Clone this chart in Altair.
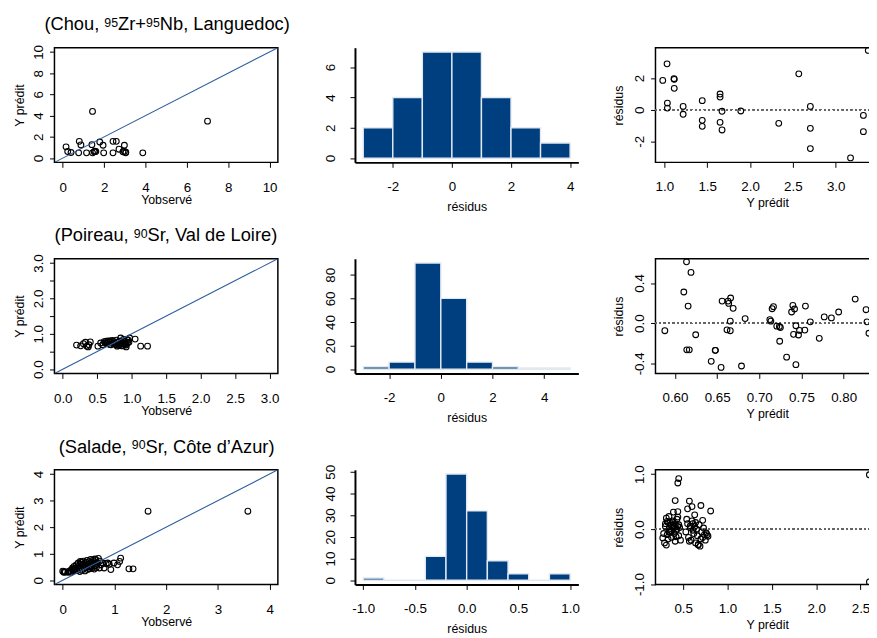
import altair as alt
import pandas as pd

FONT = "Liberation Sans"
LINE_BLUE = "#2c5d9c"
BAR_FILL = "#003f7f"
BAR_EDGE = "#e2e9f2"
MINUS = "\u2212"

# ---------------- Row 1 : Chou, 95Zr+95Nb, Languedoc ----------------
chou_title = [("(Chou, ", False), ("95", True), ("Zr+", False), ("95", True), ("Nb, Languedoc)", False)]
chou_obs = [0.16, 0.24, 0.40, 0.80, 0.88, 0.77, 1.15, 1.44, 1.41, 1.44, 1.52, 1.60, 1.79, 1.95,
            1.98, 2.43, 2.59, 2.43, 2.72, 2.98, 2.91, 3.04, 2.98, 3.87, 7.00, 1.55, 3.05]
chou_pred = [1.06, 0.62, 0.53, 1.58, 1.24, 0.50, 0.50, 4.40, 1.27, 0.50, 0.60, 0.62, 1.52, 1.21,
             0.50, 1.58, 1.58, 0.50, 0.84, 1.21, 0.60, 0.50, 0.62, 0.50, 3.48, 0.65, 0.55]
chou_edges = [-3, -2, -1, 0, 1, 2, 3, 4]
chou_counts = [2, 4, 7, 7, 4, 2, 1]
chou_res_pred = [0.981, 1.031, 1.035, 1.035, 1.112, 1.115, 1.115, 1.219, 1.219, 1.442, 1.442, 1.442,
                 1.65, 1.65, 1.65, 1.673, 1.673, 1.892, 2.335, 2.569, 2.704, 2.704, 2.704, 3.173,
                 3.323, 3.323, 3.38]
chou_res = [1.85, 2.90, 0.42, 0.10, 1.96, 1.92, 1.35, 0.21, -0.29, 0.57, -0.67, -1.05, 0.99, 0.80,
            -0.80, -0.10, -1.28, -0.08, -0.86, 2.27, 0.21, -1.18, -2.46, -3.05, -0.36, -1.39, 3.75]

# ---------------- Row 2 : Poireau, 90Sr, Val de Loire ----------------
poireau_title = [("(Poireau, ", False), ("90", True), ("Sr, Val de Loire)", False)]
poireau_obs = [0.20, 0.26, 0.33, 0.35, 0.38, 0.40, 0.37, 0.30, 0.51, 0.55, 0.58, 0.60, 0.63, 0.64,
               0.66, 0.67, 0.70, 0.72, 0.73, 0.75, 0.77, 0.78, 0.79, 0.80, 0.82, 0.83, 0.84, 0.85,
               0.86, 0.87, 0.88, 0.89, 0.90, 0.91, 0.92, 0.93, 0.94, 0.96, 0.97, 1.05, 1.13, 1.23,
               0.62, 0.68, 0.74, 0.81, 0.85, 0.88, 0.90, 0.69, 0.76, 0.92, 0.95]
poireau_pred = [0.68, 0.66, 0.76, 0.65, 0.69, 0.77, 0.63, 0.72, 0.65, 0.74, 0.69, 0.78, 0.79, 0.72,
                0.80, 0.77, 0.69, 0.81, 0.73, 0.74, 0.69, 0.82, 0.65, 0.76, 0.79, 0.70, 0.88, 0.66,
                0.74, 0.66, 0.80, 0.79, 0.69, 0.72, 0.63, 0.84, 0.75, 0.76, 0.88, 0.85, 0.65, 0.65,
                0.74, 0.70, 0.78, 0.67, 0.72, 0.84, 0.77, 0.80, 0.71, 0.68, 0.82]
poireau_edges = [-3, -2, -1, 0, 1, 2, 3, 4, 5]
poireau_counts = [2, 6, 90, 60, 6, 2, 1, 1]
poireau_res_pred = [0.588, 0.6105, 0.6137, 0.619, 0.6156, 0.614, 0.617, 0.6246, 0.643, 0.6477,
                    0.6480, 0.6547, 0.6559, 0.663, 0.6637, 0.666, 0.669, 0.6617, 0.6656, 0.6656,
                    0.6789, 0.6832, 0.7125, 0.7137, 0.7152, 0.7168, 0.7207, 0.7238, 0.725, 0.7242,
                    0.7324, 0.7383, 0.7398, 0.7418, 0.7406, 0.7434, 0.7434, 0.7465, 0.7477, 0.7547,
                    0.754, 0.7605, 0.7711, 0.777, 0.7855, 0.7941, 0.8137, 0.8266, 0.8277, 0.830]
poireau_res = [-0.075, 0.31, 0.61, 0.505, 0.17, -0.265, -0.265, -0.115, -0.38, -0.27, -0.27, -0.44,
               0.22, 0.22, 0.197, 0.25, 0.148, -0.066, -0.075, 0.02, -0.426, 0.046, 0.036, 0.02,
               0.144, 0.164, -0.03, -0.033, -0.043, -0.18, -0.338, 0.111, 0.177, 0.141, -0.111,
               -0.026, -0.413, -0.118, -0.072, 0.17, -0.069, 0.013, -0.151, 0.062, 0.052, 0.111,
               0.24, 0.134, 0.013, -0.10]

# ---------------- Row 3 : Salade, 90Sr, Cote d'Azur ----------------
salade_title = [("(Salade, ", False), ("90", True), ("Sr, C\u00f4te d\u2019Azur)", False)]
salade_obs = [0.00, 0.02, 0.03, 0.05, 0.10, 0.12, 0.15, 0.16, 0.18, 0.19, 0.20, 0.22, 0.23, 0.25,
              0.26, 0.27, 0.28, 0.30, 0.31, 0.32, 0.33, 0.34, 0.35, 0.35, 0.36, 0.37, 0.38, 0.39,
              0.40, 0.41, 0.42, 0.43, 0.44, 0.45, 0.46, 0.47, 0.48, 0.49, 0.50, 0.51, 0.52, 0.53,
              0.54, 0.55, 0.56, 0.57, 0.58, 0.59, 0.60, 0.61, 0.62, 0.63, 0.64, 0.65, 0.66, 0.67,
              0.69, 0.71, 0.72, 0.74, 0.77, 0.80, 0.84, 0.87, 0.90, 0.93, 0.99, 1.06, 1.10, 1.12,
              1.28, 1.36, 1.65, 3.58]
salade_pred = [0.34, 0.30, 0.32, 0.31, 0.30, 0.33, 0.37, 0.30, 0.41, 0.46, 0.35, 0.52, 0.40, 0.45,
               0.58, 0.36, 0.50, 0.65, 0.42, 0.55, 0.33, 0.71, 0.60, 0.47, 0.68, 0.38, 0.58, 0.52,
               0.72, 0.45, 0.63, 0.35, 0.55, 0.68, 0.48, 0.75, 0.40, 0.60, 0.52, 0.70, 0.43, 0.62,
               0.78, 0.50, 0.66, 0.45, 0.75, 0.58, 0.70, 0.42, 0.80, 0.55, 0.77, 0.48, 0.68, 0.60,
               0.82, 0.46, 0.72, 0.58, 0.65, 0.46, 0.62, 0.65, 0.60, 0.40, 0.65, 0.58, 0.71, 0.83,
               0.43, 0.43, 2.60, 2.60]
salade_edges = [-1.0, -0.8, -0.6, -0.4, -0.2, 0.0, 0.2, 0.4, 0.6, 0.8, 1.0]
salade_counts = [1, 0, 0, 11, 49, 32, 9, 3, 0, 3]
salade_res_pred = [0.45, 0.44, 0.41, 0.57, 0.60, 0.70, 0.81, 0.55, 0.39, 0.44, 0.34, 0.44, 0.63, 0.72, 0.61,
                   0.28, 0.27, 0.29, 0.31, 0.67, 0.69, 0.78,
                   0.30, 0.32, 0.33, 0.34, 0.35, 0.36, 0.37, 0.38, 0.39, 0.40, 0.41, 0.42, 0.43, 0.44,
                   0.45, 0.46, 0.47, 0.31, 0.33, 0.35, 0.37, 0.39, 0.41, 0.43, 0.45, 0.36, 0.38, 0.40,
                   0.42, 0.34, 0.30, 0.32,
                   0.53, 0.55, 0.56, 0.58, 0.59, 0.60, 0.62, 0.63, 0.64, 0.65, 0.66, 0.68, 0.70, 0.71,
                   0.73, 0.74, 0.75, 0.76, 0.54, 0.57, 0.61, 0.64, 0.67, 0.72, 0.77, 0.58,
                   2.60, 2.60]
salade_res = [0.92, 0.84, 0.52, 0.51, 0.41, 0.43, 0.33, 0.37, 0.31, 0.32, 0.23, 0.22, 0.26, 0.16, 0.10,
              -0.08, -0.16, -0.25, -0.29, -0.29, -0.31, -0.13,
              0.05, -0.10, 0.12, 0.00, -0.05, 0.08, -0.15, 0.15, 0.02, -0.08, 0.10, -0.02, 0.18, 0.05,
              -0.12, 0.03, -0.20, 0.20, -0.18, 0.12, -0.03, 0.07, -0.22, 0.00, 0.08, -0.06, 0.13, 0.04,
              -0.14, -0.05, 0.10, 0.14,
              -0.05, 0.10, -0.15, 0.03, -0.20, 0.15, -0.08, 0.05, -0.25, 0.00, -0.12, 0.08, -0.18, -0.05,
              0.02, -0.10, -0.20, -0.07, 0.18, -0.22, -0.02, 0.12, -0.28, -0.15, -0.10, 0.06,
              0.99, -0.96]

# ---------------- layout / style ----------------
W, H = 226, 116
TICK = 5
TITLE_SIZE, SUP_SIZE = 18.5, 12.5
TITLE_BASE, SUP_RAISE = -17.5, 3.5

# Arial / Liberation Sans advance widths (per 1000 em) for the title characters
ADV = {"(": 333, ")": 333, " ": 278, ",": 278, "+": 584, "\u2019": 222,
       "A": 667, "C": 722, "L": 556, "N": 722, "P": 667, "S": 667, "V": 667, "Z": 611,
       "a": 556, "b": 556, "c": 500, "d": 556, "e": 556, "g": 556, "h": 556, "i": 222,
       "l": 222, "n": 556, "o": 556, "r": 333, "s": 500, "t": 278, "u": 556, "z": 500,
       "\u00f4": 556}


def text_width(s, size):
    return sum(ADV.get(ch, 556) for ch in s) * size / 1000.0


def title_layers(pieces):
    sizes = [SUP_SIZE if sup else TITLE_SIZE for _, sup in pieces]
    widths = [text_width(t, s) for (t, _), s in zip(pieces, sizes)]
    x = W / 2 + 1 - sum(widths) / 2
    out = []
    for (t, sup), s, w in zip(pieces, sizes, widths):
        out.append(
            alt.Chart(pd.DataFrame({"t": [t]})).mark_text(
                align="left", baseline="alphabetic", font=FONT, fontSize=s, color="black"
            ).encode(
                text="t:N",
                x=alt.value(x),
                y=alt.value(TITLE_BASE - (SUP_RAISE if sup else 0)),
            )
        )
        x += w
    return out


def lab(fmt):
    return f"replace(format(datum.value, '{fmt}'), '{MINUS}', '-')"


def lab_only(fmt, keep):
    cond = " || ".join(f"abs(datum.value - ({k})) < 1e-6" for k in keep)
    return f"({cond}) ? {lab(fmt)} : ''"


def x_axis(values, expr, title, label_pad, title_pad, domain):
    return alt.Axis(values=values, labelExpr=expr, title=title, grid=False, domain=domain,
                    domainWidth=2, tickSize=TICK, tickWidth=1,
                    labelPadding=label_pad, titlePadding=title_pad, labelAngle=0,
                    labelAlign="center", labelBaseline="top", labelFlush=False)


def y_axis(values, expr, title, label_pad, title_pad, domain):
    return alt.Axis(values=values, labelExpr=expr, title=title, grid=False, domain=domain,
                    domainWidth=2, tickSize=TICK, tickWidth=1,
                    labelAngle=270, labelAlign="center", labelBaseline="alphabetic",
                    labelPadding=label_pad, titlePadding=title_pad, labelFlush=False)


def obs_panel(obs, pred, dom, ticks, xexpr, yexpr, title):
    df = pd.DataFrame({"obs": obs, "pred": pred})
    diag = pd.DataFrame({"v": [dom[0], dom[1]]})
    sx = alt.Scale(domain=dom, nice=False, zero=False)
    sy = alt.Scale(domain=dom, nice=False, zero=False)
    ax = x_axis(ticks, xexpr, "Yobservé", 13, 0.5, False)
    ay = y_axis(ticks, yexpr, "Y prédit", 7, 5.5, False)
    pts = alt.Chart(df).mark_point(shape="circle", filled=False, color="black", size=34,
                                   strokeWidth=1.1, opacity=1).encode(
        x=alt.X("obs:Q", scale=sx, axis=ax),
        y=alt.Y("pred:Q", scale=sy, axis=ay),
    )
    line = alt.Chart(diag).mark_line(color=LINE_BLUE, strokeWidth=1.1, clip=True).encode(
        x=alt.X("v:Q", scale=sx, axis=ax),
        y=alt.Y("v:Q", scale=sy, axis=ay),
    )
    return alt.layer(pts, line, *title_layers(title)).properties(
        width=W, height=H,
        view=alt.ViewBackground(stroke="black", strokeWidth=1.5),
    )


def hist_panel(edges, counts, xdom, ydom, xticks, yticks, xexpr):
    df = pd.DataFrame({"start": edges[:-1], "end": edges[1:], "count": counts})
    sx = alt.Scale(domain=xdom, nice=False, zero=False)
    sy = alt.Scale(domain=ydom, nice=False, zero=False)
    bars = alt.Chart(df).mark_rect(color=BAR_FILL, stroke=BAR_EDGE, strokeWidth=1.4).encode(
        x=alt.X("start:Q", scale=sx, axis=x_axis(xticks, xexpr, "résidus", 12, 8, True)),
        x2="end:Q",
        y=alt.Y("count:Q", scale=sy, axis=y_axis(yticks, lab("d"), None, 16, 4, True)),
        y2=alt.datum(0),
    )
    return bars.properties(width=W, height=H)


def res_panel(pred, res, xdom, ydom, xticks, yticks, xexpr, yexpr):
    df = pd.DataFrame({"pred": pred, "res": res})
    sx = alt.Scale(domain=xdom, nice=False, zero=False)
    sy = alt.Scale(domain=ydom, nice=False, zero=False)
    pts = alt.Chart(df).mark_point(shape="circle", filled=False, color="black", size=34,
                                   strokeWidth=1.1, opacity=1, clip=True).encode(
        x=alt.X("pred:Q", scale=sx, axis=x_axis(xticks, xexpr, "Y prédit", 12, 4, False)),
        y=alt.Y("res:Q", scale=sy, axis=y_axis(yticks, yexpr, "résidus", 7.5, 6.5, False)),
    )
    zero = alt.Chart(df).mark_rule(color="#666666", strokeWidth=1.2, strokeDash=[1.5, 3]).encode(
        y=alt.datum(0)
    )
    return alt.layer(zero, pts).properties(
        width=W, height=H,
        view=alt.ViewBackground(stroke="black", strokeWidth=1.5),
    )


panels = [
    obs_panel(chou_obs, chou_pred, [-0.4, 10.4], [0, 2, 4, 6, 8, 10], lab("d"), lab("d"),
              chou_title),
    hist_panel(chou_edges, chou_counts, [-3.28, 4.28], [-0.28, 7.28], [-2, 0, 2, 4], [0, 2, 4, 6],
               lab("d")),
    res_panel(chou_res_pred, chou_res, [0.896, 3.504], [-3.33, 3.92], [1.0, 1.5, 2.0, 2.5, 3.0],
              [-2, 0, 2], lab(".1f"), lab("d")),

    obs_panel(poireau_obs, poireau_pred, [-0.12, 3.12], [0, 0.5, 1.0, 1.5, 2.0, 2.5, 3.0],
              lab(".1f"), lab_only(".1f", [0, 1, 2, 3]), poireau_title),
    hist_panel(poireau_edges, poireau_counts, [-3.32, 5.32], [-3.6, 93.6], [-2, 0, 2, 4],
               [0, 20, 40, 60, 80], lab("d")),
    res_panel(poireau_res_pred, poireau_res, [0.5769, 0.8418], [-0.5, 0.641],
              [0.60, 0.65, 0.70, 0.75, 0.80], [-0.4, -0.2, 0.0, 0.2, 0.4, 0.6],
              lab(".2f"), lab_only(".1f", [-0.4, 0, 0.4])),

    obs_panel(salade_obs, salade_pred, [-0.16, 4.16], [0, 1, 2, 3, 4], lab("d"), lab("d"),
              salade_title),
    hist_panel(salade_edges, salade_counts, [-1.08, 1.08], [-1.96, 50.96],
               [-1.0, -0.5, 0.0, 0.5, 1.0], [0, 10, 20, 30, 40, 50], lab(".1f")),
    res_panel(salade_res_pred, salade_res, [0.1878, 2.7073], [-1.007, 1.08],
              [0.5, 1.0, 1.5, 2.0, 2.5], [-1.0, -0.5, 0.0, 0.5, 1.0], lab(".1f"), lab(".1f")),
]

chart = alt.concat(
    *panels, columns=3, spacing={"row": 97.5, "column": 78}, bounds="flush",
    padding={"left": 4, "top": 2.5, "right": -12, "bottom": 0},
).configure(font=FONT).configure_view(stroke="transparent").configure_axis(
    labelFont=FONT, titleFont=FONT, labelFontSize=13.5, titleFontSize=12.5,
    labelColor="black", titleColor="black", titleFontWeight="normal",
    tickColor="black", domainColor="black",
)

chart.save("out.html", embed_options={"renderer": "svg", "actions": False})
